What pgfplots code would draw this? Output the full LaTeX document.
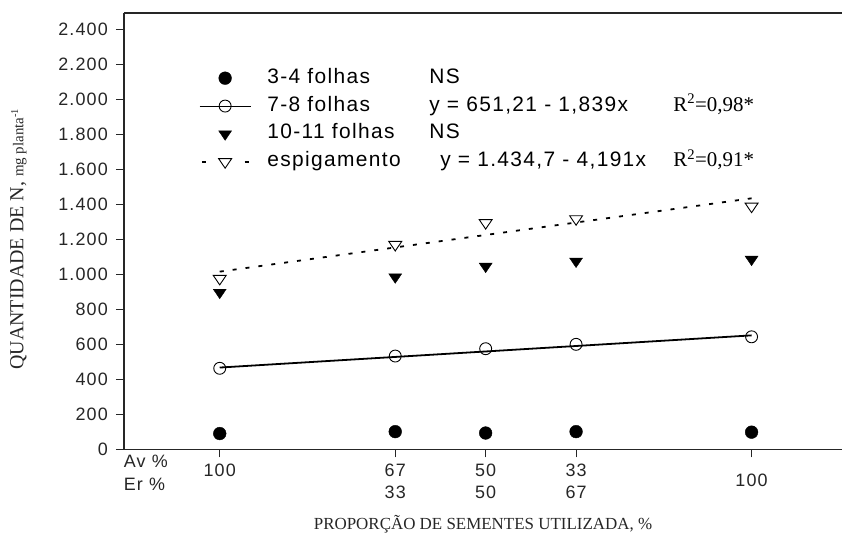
\documentclass[border=0pt]{standalone}
\usepackage{pgfplots}
\pgfplotsset{compat=1.18}
\usepackage{fontspec}
\setmainfont{Liberation Serif}
\newfontfamily\chsans[LetterSpace=6.5]{Liberation Sans}

\pgfplotsset{
  img mark/.style={legend image code/.code={\path[draw=none, fill=none] (0bp,0bp) -- (67.7bp,0bp); \draw[##1] plot coordinates {(25.5bp,0bp)};}},
  img solid/.style={legend image code/.code={\path[draw=none, fill=none] (0bp,0bp) -- (67.7bp,0bp); \draw[black, line width=0.8] (0bp,0bp) -- (51bp,0bp); \draw[##1] plot coordinates {(25.5bp,0bp)};}},
  img dots/.style={legend image code/.code={\path[draw=none, fill=none] (0bp,0bp) -- (67.7bp,0bp); \draw[black, line width=1.8] (2.7bp,0bp) -- (6.7bp,0bp) (45bp,0bp) -- (49bp,0bp); \draw[##1] plot coordinates {(25.5bp,0bp)};}},
}

\begin{document}
\begin{tikzpicture}
\begin{axis}[
  name=ax,
  scale only axis,
  width=718bp, height=436.3bp,
  xmin=-18, xmax=117,
  ymin=0, ymax=2494,
  axis x line=box, axis y line=left,
  axis line style={-, line width=1.1bp, black!85},
  xtick={0,33,50,67,100},
  xticklabels={{100\\\mbox{}},{67\\33},{50\\50},{33\\67},{\mbox{}\\100}},
  extra x ticks={-13.9},
  extra x tick labels={{Av \%\\Er \%}},
  extra x tick style={major tick length=0pt, xticklabel style={align=left}},
  ytick={0,200,...,2400},
  xtick pos=bottom, ytick pos=left,
  tick align=outside,
  major tick length=8bp,
  tick style={line width=1bp, black!85},
  /pgf/number format/assume math mode=true,
  /pgf/number format/1000 sep={.},
  yticklabel style={font=\chsans\fontsize{18}{20}\selectfont, black!85, inner sep=0pt, xshift=-8bp},
  xticklabel style={font=\chsans\fontsize{18}{23}\selectfont, align=center, black!85, inner sep=0pt, yshift=-6bp},
  ylabel={{\fontsize{20}{24}\selectfont QUANTIDADE DE N,}\ \ {\fontsize{15}{18}\selectfont mg planta\textsuperscript{-1}}},
  ylabel style={at={(axis description cs:-0.147,0.482)}, anchor=center, black!85},
  xlabel={PROPORÇÃO DE SEMENTES UTILIZADA, \%},
  xlabel style={font=\fontsize{17}{20}\selectfont, at={(axis description cs:0.5,-0.171)}, anchor=center, black!85},
  legend style={draw=none, fill=none, at={(axis description cs:0.1045,0.874)}, anchor=north west,
    inner sep=0pt, row sep=7.9bp, font=\chsans\fontsize{21}{24}\selectfont,
    nodes={inner sep=0pt, text height=15bp, text depth=5bp}},
  legend cell align=left,
]
\addplot[only marks, mark=*, mark size=6.4, black, img mark]
  coordinates {(0,90) (33,101) (50,93) (67,101) (100,98)};
\addlegendentry{\makebox[162bp][l]{3-4 folhas}NS}

\addplot[forget plot, line width=1.8, black] coordinates {(0,467.3) (100,651.2)};
\addplot[only marks, mark=o, mark size=6, black, mark options={line width=0.9}, img solid]
  coordinates {(0,463) (33,533) (50,575) (67,600) (100,643)};
\addlegendentry{\makebox[162bp][l]{7-8 folhas}\makebox[244bp][l]{y = 651,21 - 1,839x}{\rmfamily R\textsuperscript{2}=0,98*}}

\addplot[only marks, mark=triangle*, mark size=7.5, black, mark options={rotate=180, yscale=0.85}, img mark]
  coordinates {(0,897) (33,985) (50,1046) (67,1075) (100,1086)};
\addlegendentry{\makebox[162bp][l]{10-11 folhas}NS}

\addplot[forget plot, line width=1.8, black, dash pattern=on 4bp off 9bp] coordinates {(0,1015.6) (100,1434.7)};
\addplot[only marks, mark=triangle, mark size=7.5, black, mark options={rotate=180, yscale=0.85, line width=0.9}, img dots]
  coordinates {(0,976) (33,1170) (50,1295) (67,1317) (100,1389)};
\addlegendentry{\makebox[173bp][l]{espigamento}\makebox[233bp][l]{y = 1.434,7 - 4,191x}{\rmfamily R\textsuperscript{2}=0,91*}}
\end{axis}
\pgfresetboundingbox
\path[use as bounding box] ([shift={(-124bp,-83.7bp)}]ax.south west) rectangle ([yshift=13bp]ax.north east);
\end{tikzpicture}
\end{document}
